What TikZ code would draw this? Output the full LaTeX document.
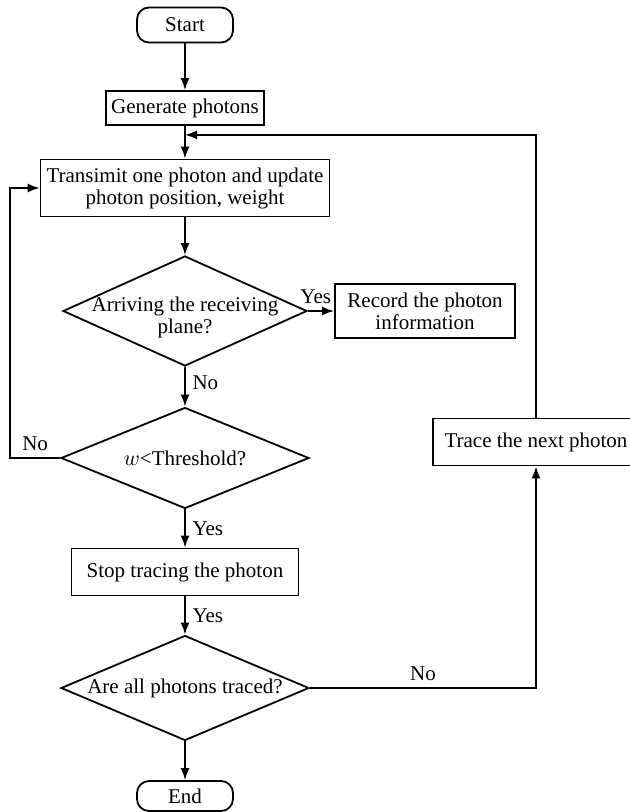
\documentclass[tikz,border=0pt]{standalone}
\usepackage{fontspec}
\setmainfont{Liberation Serif}
\usetikzlibrary{positioning,shapes.geometric,arrows.meta}

\begin{document}
\begin{tikzpicture}[>={Latex[length=6pt,width=4.5pt]},line width=0.9pt,on grid,auto,
  font=\fontsize{10.5}{11}\selectfont,
  term/.style={draw,rounded corners=6pt,minimum width=48pt,minimum height=17.5pt,inner sep=0pt},
  proc/.style={draw,align=center,inner sep=0pt},
  test/.style={draw,diamond,align=center,inner sep=-4pt}]

   \useasboundingbox (0,0) rectangle (315pt,-406pt);

   \node[term] (start) at (92.5pt,-12.5pt) {Start};
   \node[proc,minimum width=79pt,minimum height=17pt] (gen) [below=41.5pt of start] {Generate photons};
   \node[proc,minimum width=144.5pt,minimum height=28.5pt] (move) [below=40pt of gen] {Transimit one photon and update\\photon position, weight};
   \node[test,shape aspect=2.22,minimum width=122pt,minimum height=55pt,
     label={[align=center,yshift=-3pt]center:Arriving the receiving\\plane?}] (arr) [below=61.5pt of move] {};
   \node[proc,minimum width=90pt,minimum height=27pt] (rec) [right=120pt of arr] {Record the photon\\information};
   \node[test,shape aspect=2.46,minimum width=124pt,minimum height=50.5pt] (thr) [below=73.5pt of arr] {$w$<Threshold?};
   \node[proc,minimum width=113.5pt,minimum height=23.5pt] (stop) [below=57pt of thr] {Stop tracing the photon};
   \node[test,shape aspect=2.36,minimum width=124pt,minimum height=52.5pt] (done) [below=58pt of stop] {Are all photons traced?};
   \node[term,minimum height=15pt] (fin) [below=54pt of done] {End};
   \node[proc,minimum width=103pt,minimum height=23.5pt] (next) [above right=8pt and 175.5pt of thr] {Trace the next photon};
   \coordinate[below=4.5pt of gen.south] (join);

    \path[->,draw]
    (start) edge (gen)
    (gen) edge (move)
    (move) edge (arr)
    (arr) edge node[pos=0.3] {Yes} (rec)
          edge node[pos=0.4] {No} (thr)
    (thr) edge node {Yes} (stop)
    (stop) edge node {Yes} (done)
    (done) edge (fin);

    \draw[->] (next) -- (next |- join) -- (join);
    \draw[->] (thr.west) -- node[swap] {No} ++(-25pt,0) |- (move.west);
    \draw[->] (done) -| node[pos=0.25] {No} (next);

\end{tikzpicture}
\end{document}
